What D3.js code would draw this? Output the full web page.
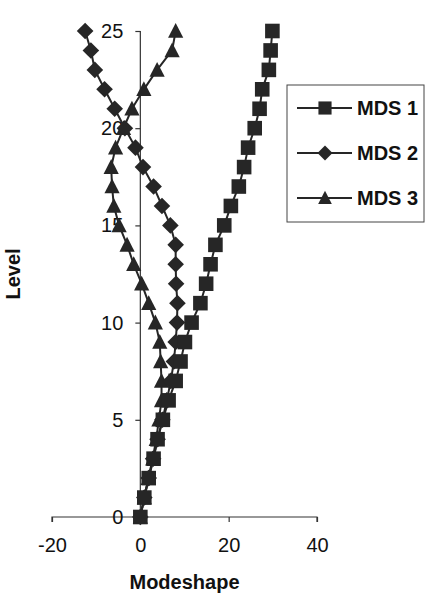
<!DOCTYPE html>
<html>
<head>
<meta charset="utf-8">
<script src="https://cdn.jsdelivr.net/npm/d3@7/dist/d3.min.js"></script>
<style>
  html, body { margin: 0; padding: 0; background: #fff; }
  svg { display: block; }
  text { font-family: Arial, "Liberation Sans", sans-serif; fill: #111; }
</style>
</head>
<body>
<script>
const levels = [0,1,2,3,4,5,6,7,8,9,10,11,12,13,14,15,16,17,18,19,20,21,22,23,24,25];
const mds1 = [0, 0.9, 1.9, 3.0, 3.9, 5.1, 6.4, 8.0, 9.1, 10.1, 11.6, 13.6, 14.9, 15.9, 17.0, 19.0, 20.5, 22.3, 23.5, 24.4, 25.9, 27.0, 27.6, 29.1, 29.5, 29.9];
const mds2 = [0, 0.9, 1.9, 2.9, 3.9, 5.0, 6.0, 6.9, 7.6, 8.0, 8.3, 8.4, 8.1, 8.0, 8.0, 6.8, 4.9, 3.0, 0.6, -1.1, -3.5, -5.8, -8.1, -10.3, -11.2, -12.5];
const mds3 = [0, 0.9, 1.8, 2.8, 3.6, 4.2, 4.8, 4.8, 4.6, 4.4, 3.4, 1.9, 0.3, -1.5, -3.0, -4.8, -6.0, -6.4, -6.6, -5.6, -3.8, -1.9, 0.8, 3.8, 7.2, 8.0];
const seriesNames = ["MDS 1", "MDS 2", "MDS 3"];
const xTicks = [-20, 0, 20, 40];
const yTicks = [0, 5, 10, 15, 20, 25];
const xLabel = "Modeshape";
const yLabel = "Level";

const W = 438, H = 608;
const svg = d3.select("body").append("svg").attr("width", W).attr("height", H);

const x = d3.scaleLinear().domain([-20, 40]).range([52, 317]);
const y = d3.scaleLinear().domain([0, 25]).range([517, 31]);

const ink = "#262626";

function markerPath(kind, k) {
  k = k || 1;
  if (kind === "square") { const a = 7.3 * k; return `M${-a},${-a}H${a}V${a}H${-a}Z`; }
  if (kind === "diamond") { const a = 8.3 * k; return `M0,${-a}L${a},0L0,${a}L${-a},0Z`; }
  const h = 8 * k, w = 7.6 * k;
  return `M0,${-h}L${w},${h * 0.85}L${-w},${h * 0.85}Z`;
}
const kinds = ["square", "diamond", "triangle"];
const allSeries = [mds1, mds2, mds3];
const fmt = d => String(d);

// axes
const xAxis = d3.axisBottom(x).tickValues(xTicks).tickSize(5).tickPadding(16).tickFormat(fmt);
const gx = svg.append("g").attr("transform", `translate(0,${y(0)})`).call(xAxis);
const yAxis = d3.axisLeft(y).tickValues(yTicks).tickSize(5).tickPadding(12).tickFormat(fmt);
const gy = svg.append("g").attr("transform", `translate(${x(0)},0)`).call(yAxis);
[gx, gy].forEach(g => {
  g.select(".domain").attr("stroke", "#333").attr("stroke-width", 1.2);
  g.selectAll(".tick line").attr("stroke", "#333").attr("stroke-width", 1.2);
  g.selectAll(".tick text").style("font-size", "20px").attr("fill", "#111")
    .style("font-family", "Arial, 'Liberation Sans', sans-serif");
});
gx.select(".domain").attr("d", `M${x(-20)},5V0H${x(40)}V5`);
gy.select(".domain").attr("d", `M0,${y(25)}V${y(0)}`);

// axis titles
svg.append("text").attr("x", (x(-20) + x(40)) / 2).attr("y", 589)
  .attr("text-anchor", "middle").style("font-size", "20px").style("font-weight", "bold").text(xLabel);
svg.append("text").attr("transform", `translate(20,${274}) rotate(-90)`)
  .attr("text-anchor", "middle").style("font-size", "20px").style("font-weight", "bold").text(yLabel);

// series (drawn last-to-first so MDS 1 sits on top)
const line = d3.line().x(d => x(d[0])).y(d => y(d[1]));
for (let s = allSeries.length - 1; s >= 0; s--) {
  const pts = allSeries[s].map((v, i) => [v, levels[i]]);
  const g = svg.append("g");
  g.append("path").attr("d", line(pts)).attr("fill", "none").attr("stroke", ink).attr("stroke-width", 2);
  g.selectAll("path.m").data(pts).enter().append("path").attr("class", "m")
    .attr("d", markerPath(kinds[s]))
    .attr("transform", d => `translate(${x(d[0])},${y(d[1])})`)
    .attr("fill", ink);
}

// legend
const lg = svg.append("g");
lg.append("rect").attr("x", 287).attr("y", 85).attr("width", 137).attr("height", 137)
  .attr("fill", "#fff").attr("stroke", "#444").attr("stroke-width", 1);
seriesNames.forEach((name, i) => {
  const cy = 108 + i * 45;
  lg.append("line").attr("x1", 297).attr("x2", 352).attr("y1", cy).attr("y2", cy)
    .attr("stroke", ink).attr("stroke-width", 1.8);
  lg.append("path").attr("d", markerPath(kinds[i], 0.9)).attr("transform", `translate(325,${cy})`).attr("fill", ink);
  lg.append("text").attr("x", 357).attr("y", cy + 7).style("font-size", "20px").style("font-weight", "bold").text(name);
});
</script>
</body>
</html>
